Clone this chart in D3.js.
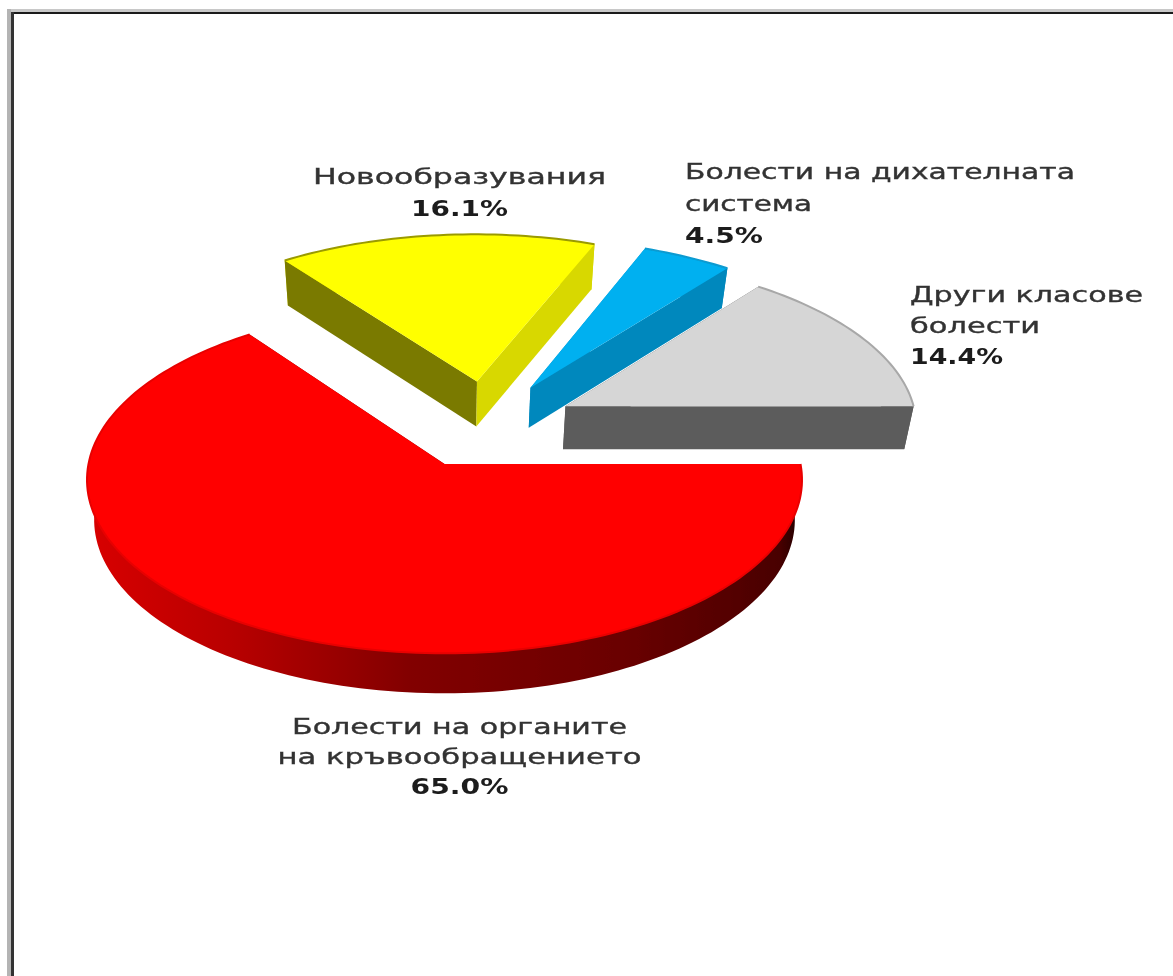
<!DOCTYPE html>
<html>
<head>
<meta charset="utf-8">
<script src="https://cdn.jsdelivr.net/npm/d3@7"></script>
<style>
  html, body { margin: 0; padding: 0; background: #fff; }
  svg { display: block; }
  text { font-family: "DejaVu Sans", sans-serif; font-size: 21px; fill: #333; stroke: #333; stroke-width: 0.35px; }
  .pct { font-weight: bold; fill: #1c1c1c; stroke: none; }
</style>
</head>
<body>
<svg id="chart" width="1173" height="976"></svg>
<script>
const categories = [
  "Болести на органите на кръвообращението",
  "Новообразувания",
  "Болести на дихателната система",
  "Други класове болести"
];
const values = [65.0, 16.1, 4.5, 14.4];
const labelLines = [
  ["Болести на органите", "на кръвообращението"],
  ["Новообразувания"],
  ["Болести на дихателната", "система"],
  ["Други класове", "болести"]
];

const width = 1173, height = 976;
const cx = 444.5, cy = 464, rx = 356, ry = 172;
const persp = 0.0914;    // near side of the disc is drawn larger
const explode = 0.27;
const shrink = 0.98;

// per slice tuning, same order as values
const depths = [40, 45, 40, 43];
const nudges = [[0, 0], [2, 1], [-2, 2], [-5, 2]];
const radii = [1, 1.02, 1.03, 1.01];

const topColors = ["#ff0000", "#ffff00", "#00b0f0", "#d6d6d6"];
const strokeColors = ["#e80000", "#9a9a00", "#0a9ad0", "#a8a8a8"];
const cutColors = [
  ["#7a0000", "#7a0000"],
  ["#7a7a00", "#d8d800"],
  ["#0090c8", "#0088bd"],
  ["#5c5c5c", "#5c5c5c"]
];
const rimColors = ["url(#redSide)", "#d8d800", "#0088bd", "#5c5c5c"];

// label anchor, x, first baseline, line step, line widths in px
const labelPos = [
  { anchor: "middle", x: 459.5, y: 734, step: 30, widths: [335, 364], pct: 98 },
  { anchor: "middle", x: 459.5, y: 184, step: 32, widths: [293], pct: 97 },
  { anchor: "start", x: 685, y: 179, step: 32, widths: [390, 127], pct: 78 },
  { anchor: "start", x: 910, y: 302, step: 31, widths: [233, 130], pct: 93 }
];

const svg = d3.select("#chart");

const defs = svg.append("defs");
const grad = defs.append("linearGradient")
  .attr("id", "redSide")
  .attr("gradientUnits", "userSpaceOnUse")
  .attr("x1", 90).attr("x2", 800).attr("y1", 0).attr("y2", 0);
[[0, "#d80000"], [0.2, "#b80000"], [0.45, "#820000"], [0.75, "#6a0000"], [0.97, "#4a0000"], [1, "#200000"]]
  .forEach(s => grad.append("stop").attr("offset", s[0]).attr("stop-color", s[1]));
defs.append("filter").attr("id", "soft")
  .append("feGaussianBlur").attr("stdDeviation", 0.6);

const xScale = d3.scaleLinear().domain([-1, 1]).range([cx - rx, cx + rx]);
const yScale = d3.scaleLinear().domain([-1, 1]).range([cy - ry, cy + ry]);

// the red apex sits at the plane origin, the true centre is behind it
const pie = d3.pie().sort(null).startAngle(Math.PI / 2).endAngle(Math.PI * 2.5);
const arcs = pie(values);
const mid = d => (d.startAngle + d.endAngle) / 2;
const ox = -explode * Math.sin(mid(arcs[0]));
const oy = explode * Math.cos(mid(arcs[0]));

function project(u, v) {
  const w = 1 - persp * v;
  return [xScale(u / w), yScale(v / w)];
}

const line = d3.line();

// draw back to front
const order = [1, 2, 3, 0];
const g = svg.append("g").attr("filter", "url(#soft)");

order.forEach(i => {
  const d = arcs[i];
  const ax = ox + explode * Math.sin(mid(d));
  const ay = oy - explode * Math.cos(mid(d));
  const shift = p => [p[0] + nudges[i][0], p[1] + nudges[i][1]];
  const lower = p => [cx + (p[0] - cx) * shrink, p[1] + depths[i]];
  const apex = shift(project(ax, ay));
  const n = Math.ceil((d.endAngle - d.startAngle) * 40);
  const rim = d3.range(n + 1).map(k => {
    const a = d.startAngle + (d.endAngle - d.startAngle) * k / n;
    return shift(project(ax + radii[i] * Math.sin(a), ay - radii[i] * Math.cos(a)));
  });
  const first = rim[0], last = rim[rim.length - 1];

  g.append("path")
    .attr("d", line(rim.concat(rim.slice().reverse().map(lower))) + "Z")
    .attr("fill", rimColors[i]);
  g.append("path")
    .attr("d", line([apex, first, lower(first), lower(apex)]) + "Z")
    .attr("fill", cutColors[i][0]);
  g.append("path")
    .attr("d", line([apex, last, lower(last), lower(apex)]) + "Z")
    .attr("fill", cutColors[i][1]);
  g.append("path")
    .attr("d", line([apex].concat(rim)) + "Z")
    .attr("fill", topColors[i]);
  g.append("path")
    .attr("d", line(rim))
    .attr("fill", "none")
    .attr("stroke", strokeColors[i])
    .attr("stroke-width", 2);
});

// frame, open at the right and bottom
const frame = svg.append("g");
frame.append("rect").attr("x", 7).attr("y", 9).attr("width", 1166).attr("height", 3).attr("fill", "#c8c8c8");
frame.append("rect").attr("x", 7).attr("y", 9).attr("width", 4).attr("height", 967).attr("fill", "#b4b4b4");
frame.append("rect").attr("x", 11).attr("y", 12).attr("width", 1162).attr("height", 2).attr("fill", "#1a1a1a");
frame.append("rect").attr("x", 11).attr("y", 12).attr("width", 3).attr("height", 964).attr("fill", "#333333");

const fmt = d3.format(".1f");
const labels = svg.append("g").attr("filter", "url(#soft)");
labelPos.forEach((pos, i) => {
  const lines = labelLines[i];
  lines.forEach((s, k) => {
    labels.append("text")
      .attr("text-anchor", pos.anchor)
      .attr("x", pos.x)
      .attr("y", pos.y + k * pos.step)
      .attr("textLength", pos.widths[k])
      .attr("lengthAdjust", "spacingAndGlyphs")
      .text(s);
  });
  labels.append("text")
    .attr("class", "pct")
    .attr("text-anchor", pos.anchor)
    .attr("x", pos.x)
    .attr("y", pos.y + lines.length * pos.step)
    .attr("textLength", pos.pct)
    .attr("lengthAdjust", "spacingAndGlyphs")
    .text(fmt(values[i]) + "%");
});
</script>
</body>
</html>
